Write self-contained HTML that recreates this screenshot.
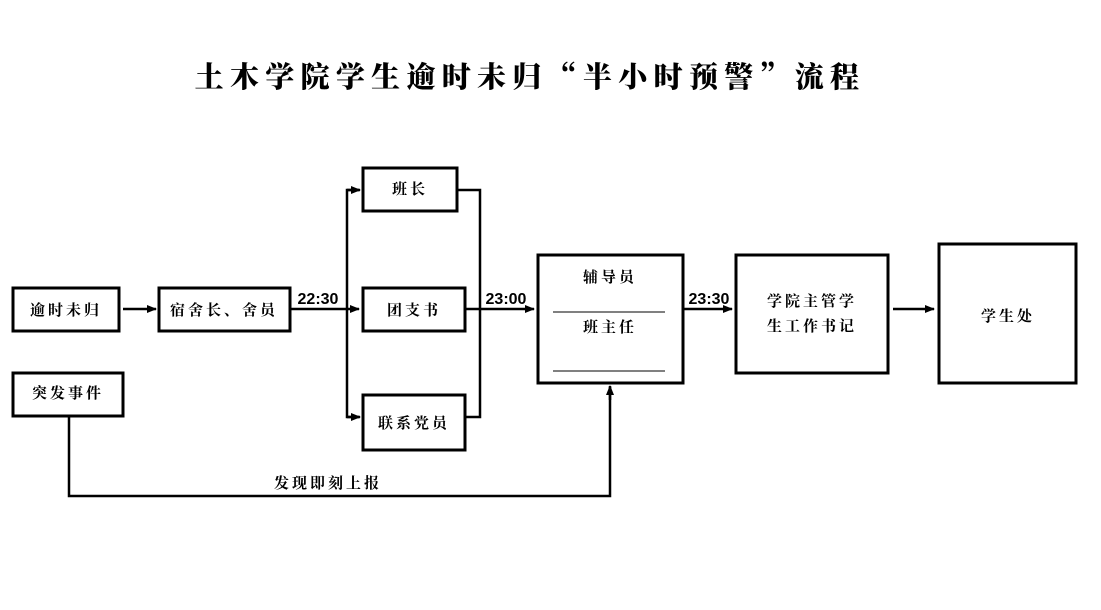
<!DOCTYPE html>
<html><head><meta charset="utf-8"><style>
body{margin:0;background:#fff;}
svg{display:block}
text{font-family:"Liberation Sans","Noto Serif CJK SC","Noto Sans CJK SC",sans-serif;font-weight:bold;fill:#000}
.b{fill:#fff;stroke:#000;stroke-width:3}
.l{stroke:#000;stroke-width:2.5;fill:none}
</style></head><body>
<svg width="1101" height="610" viewBox="0 0 1101 610">
<defs><marker id="a" markerWidth="10" markerHeight="8" refX="9" refY="4" orient="auto" markerUnits="userSpaceOnUse"><path d="M0,0 L10,4 L0,8 Z" fill="#000"/></marker></defs>
<text x="530" y="87" font-size="29" text-anchor="middle" letter-spacing="6.3" style="font-family:'Noto Serif CJK SC','Noto Sans CJK SC',serif;font-weight:900">土木学院学生逾时未归“半小时预警”流程</text>
<rect class="b" x="13" y="288" width="106" height="43"/>
<text x="66" y="315" font-size="15" text-anchor="middle" letter-spacing="3">逾时未归</text>
<rect class="b" x="159" y="288" width="131" height="43"/>
<text x="224" y="315" font-size="15" text-anchor="middle" letter-spacing="3">宿舍长、舍员</text>
<line class="l" x1="123" y1="309" x2="156" y2="309" marker-end="url(#a)"/>
<text x="318" y="304" font-size="16" text-anchor="middle">22:30</text>
<line class="l" x1="290" y1="309" x2="359" y2="309" marker-end="url(#a)"/>
<polyline class="l" points="359,190 347,190 347,417 359,417"/>
<line class="l" x1="347" y1="190" x2="360" y2="190" marker-end="url(#a)"/>
<line class="l" x1="347" y1="417" x2="360" y2="417" marker-end="url(#a)"/>
<rect class="b" x="363" y="168" width="94" height="43"/>
<text x="410" y="194" font-size="15" text-anchor="middle" letter-spacing="3">班长</text>
<rect class="b" x="363" y="288" width="102" height="43"/>
<text x="414" y="315" font-size="15" text-anchor="middle" letter-spacing="3">团支书</text>
<rect class="b" x="363" y="395" width="102" height="55"/>
<text x="414" y="428" font-size="15" text-anchor="middle" letter-spacing="3">联系党员</text>
<polyline class="l" points="457,190 480,190 480,417 465,417"/>
<line class="l" x1="465" y1="309" x2="534" y2="309" marker-end="url(#a)"/>
<text x="506" y="304" font-size="16" text-anchor="middle">23:00</text>
<rect class="b" x="538" y="255" width="145" height="128"/>
<text x="610" y="282" font-size="15" text-anchor="middle" letter-spacing="3">辅导员</text>
<line x1="553" y1="312" x2="665" y2="312" stroke="#000" stroke-width="1"/>
<text x="610" y="332" font-size="15" text-anchor="middle" letter-spacing="3">班主任</text>
<line x1="553" y1="371" x2="665" y2="371" stroke="#000" stroke-width="1"/>
<text x="709" y="304" font-size="16" text-anchor="middle">23:30</text>
<line class="l" x1="683" y1="309" x2="732" y2="309" marker-end="url(#a)"/>
<rect class="b" x="736" y="255" width="152" height="118"/>
<text x="812" y="306" font-size="15" text-anchor="middle" letter-spacing="3">学院主管学</text>
<text x="812" y="331" font-size="15" text-anchor="middle" letter-spacing="3">生工作书记</text>
<line class="l" x1="893" y1="309" x2="934" y2="309" marker-end="url(#a)"/>
<rect class="b" x="939" y="244" width="137" height="139"/>
<text x="1008" y="321" font-size="15" text-anchor="middle" letter-spacing="3">学生处</text>
<rect class="b" x="13" y="373" width="110" height="43"/>
<text x="68" y="398" font-size="15" text-anchor="middle" letter-spacing="3">突发事件</text>
<polyline class="l" points="69,416 69,496 610,496 610,387"/>
<line class="l" x1="610" y1="400" x2="610" y2="386" marker-end="url(#a)"/>
<text x="328" y="488" font-size="15" text-anchor="middle" letter-spacing="3">发现即刻上报</text>
</svg>
</body></html>
